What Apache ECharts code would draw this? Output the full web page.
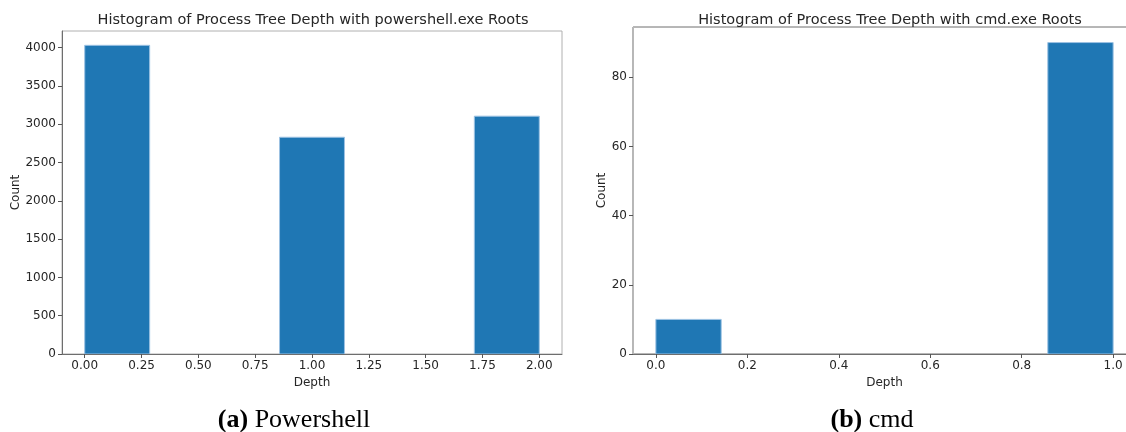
<!DOCTYPE html>
<html>
<head>
<meta charset="utf-8">
<title>Process Tree Depth Histograms</title>
<script src="https://cdn.jsdelivr.net/npm/echarts@6/dist/echarts.min.js"></script>
<style>
  html, body { margin: 0; padding: 0; background: #fff; }
  #chart { width: 1126px; height: 432px; }
</style>
</head>
<body>
<div id="chart"></div>
<script>
// Histogram counts per depth bin (7 equal-width bins over each depth range)
const psDepthRange = [0, 2];
const psCounts = [4030, 0, 0, 2830, 0, 0, 3105];
const cmdDepthRange = [0, 1];
const cmdCounts = [10, 0, 0, 0, 0, 0, 90];

// Tick labels
const psDepthTicks = [0, 0.25, 0.5, 0.75, 1.0, 1.25, 1.5, 1.75, 2.0];
const psCountTicks = [0, 500, 1000, 1500, 2000, 2500, 3000, 3500, 4000];
const cmdDepthTicks = [0, 0.2, 0.4, 0.6, 0.8, 1.0];
const cmdCountTicks = [0, 20, 40, 60, 80];

const titles = [
  'Histogram of Process Tree Depth with powershell.exe Roots',
  'Histogram of Process Tree Depth with cmd.exe Roots'
];

// Turn counts into [binStart, binEnd, count] rows
function toBins(range, counts) {
  const w = (range[1] - range[0]) / counts.length;
  return counts.map((c, i) => [range[0] + i * w, range[0] + (i + 1) * w, c]);
}

const sans = 'DejaVu Sans';
const textColor = '#262626';
const barColor = '#1f77b4';

function renderBin(params, api) {
  if (api.value(2) <= 0) return null;
  const p0 = api.coord([api.value(0), api.value(2)]);
  const p1 = api.coord([api.value(1), 0]);
  return {
    type: 'rect',
    shape: { x: p0[0], y: p0[1], width: p1[0] - p0[0], height: p1[1] - p0[1] },
    style: { fill: barColor, stroke: '#9cc2e3', lineWidth: 1 }
  };
}

function xAxis(gridIndex, min, max, ticks, digits) {
  return {
    type: 'value', gridIndex, min, max,
    name: 'Depth', nameLocation: 'middle', nameGap: 21,
    nameTextStyle: { fontFamily: sans, fontSize: 12, color: textColor },
    axisLine: { show: true, onZero: false, lineStyle: { color: '#6e6e6e', width: 1 } },
    axisTick: { show: true, length: 4, customValues: ticks, lineStyle: { color: '#555' } },
    axisLabel: {
      customValues: ticks, margin: 6, fontFamily: sans, fontSize: 12, color: textColor,
      formatter: v => Number(v).toFixed(digits)
    },
    splitLine: { show: false }
  };
}

function yAxis(gridIndex, max, ticks, nameGap, lineColor) {
  return {
    type: 'value', gridIndex, min: 0, max,
    name: 'Count', nameLocation: 'middle', nameGap, nameRotate: 90,
    nameTextStyle: { fontFamily: sans, fontSize: 12, color: textColor },
    axisLine: { show: true, onZero: false, lineStyle: { color: lineColor, width: 1 } },
    axisTick: { show: true, length: 4, customValues: ticks, lineStyle: { color: '#555' } },
    axisLabel: {
      customValues: ticks, margin: 6, fontFamily: sans, fontSize: 12, color: textColor,
      formatter: v => String(v)
    },
    splitLine: { show: false }
  };
}

const captionStyle = {
  fontFamily: 'Liberation Serif', fontSize: 26, fontWeight: 'normal', color: '#000',
  rich: { b: { fontFamily: 'Liberation Serif', fontSize: 26, fontWeight: 'bold', color: '#000' } }
};

const chart = echarts.init(document.getElementById('chart'), null, { renderer: 'canvas' });

chart.setOption({
  backgroundColor: '#fff',
  animation: false,
  title: [
    { text: titles[0], left: 308, top: 8, textAlign: 'center',
      textStyle: { fontFamily: sans, fontSize: 14.5, fontWeight: 'normal', color: textColor } },
    { text: titles[1], left: 885, top: 8, textAlign: 'center',
      textStyle: { fontFamily: sans, fontSize: 14.5, fontWeight: 'normal', color: textColor } },
    { text: '{b|(a)} Powershell', left: 289, top: 402, textAlign: 'center', textStyle: captionStyle },
    { text: '{b|(b)} cmd', left: 867, top: 402, textAlign: 'center', textStyle: captionStyle }
  ],
  grid: [
    { left: 62, top: 31, width: 500, height: 323, outerBoundsMode: 'none',
      show: true, borderColor: '#b0b0b0', borderWidth: 1, backgroundColor: '#fff' },
    { left: 633, top: 27, width: 503, height: 327, outerBoundsMode: 'none',
      show: true, borderColor: '#6e6e6e', borderWidth: 1, backgroundColor: '#fff' }
  ],
  xAxis: [
    xAxis(0, -0.1, 2.1, psDepthTicks, 2),
    xAxis(1, -0.05, 1.05, cmdDepthTicks, 1)
  ],
  yAxis: [
    yAxis(0, 4217, psCountTicks, 32, '#6e6e6e'),
    yAxis(1, 94.5, cmdCountTicks, 21, '#b8b8b8')
  ],
  series: [
    { type: 'custom', xAxisIndex: 0, yAxisIndex: 0, renderItem: renderBin, clip: true,
      encode: { x: [0, 1], y: 2 }, data: toBins(psDepthRange, psCounts) },
    { type: 'custom', xAxisIndex: 1, yAxisIndex: 1, renderItem: renderBin, clip: true,
      encode: { x: [0, 1], y: 2 }, data: toBins(cmdDepthRange, cmdCounts) }
  ]
});
</script>
</body>
</html>
